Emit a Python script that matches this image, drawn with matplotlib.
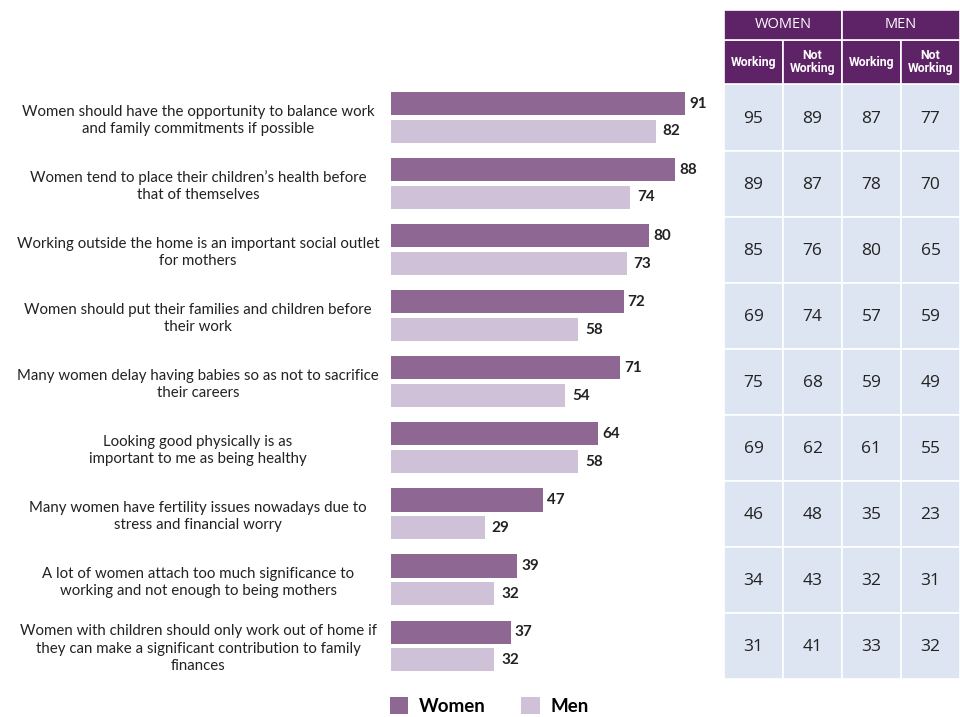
import matplotlib.pyplot as plt
from matplotlib.patches import Rectangle

plt.rcParams['font.family'] = ['Lato', 'DejaVu Sans']

statements = [
    "Women should have the opportunity to balance work\nand family commitments if possible",
    "Women tend to place their children\u2019s health before\nthat of themselves",
    "Working outside the home is an important social outlet\nfor mothers",
    "Women should put their families and children before\ntheir work",
    "Many women delay having babies so as not to sacrifice\ntheir careers",
    "Looking good physically is as\nimportant to me as being healthy",
    "Many women have fertility issues nowadays due to\nstress and financial worry",
    "A lot of women attach too much significance to\nworking and not enough to being mothers",
    "Women with children should only work out of home if\nthey can make a significant contribution to family\nfinances",
]
women = [91, 88, 80, 72, 71, 64, 47, 39, 37]
men = [82, 74, 73, 58, 54, 58, 29, 32, 32]

women_working = [95, 89, 85, 69, 75, 69, 46, 34, 31]
women_not_working = [89, 87, 76, 74, 68, 62, 48, 43, 41]
men_working = [87, 78, 80, 57, 59, 61, 35, 32, 33]
men_not_working = [77, 70, 65, 59, 49, 55, 23, 31, 32]

c_women = '#8e6893'
c_men = '#cfc2d8'
c_head = '#5e2266'
c_body = '#dde5f2'
c_text = '#222222'

W, H = 960, 717
fig = plt.figure(figsize=(9.6, 7.17), dpi=100)

# bar chart axes (pixel box -> figure fraction)
top_px, bot_px = 84.5, 679
ax = fig.add_axes([391 / W, 1 - bot_px / H, (714 - 391) / W, (bot_px - top_px) / H])
n = len(statements)
ypos = list(range(n))
off, bh = 0.21, 0.35
ax.barh([y - off for y in ypos], women, height=bh, color=c_women, label='Women')
ax.barh([y + off for y in ypos], men, height=bh, color=c_men, label='Men')
ax.set_xlim(0, 100)
ax.set_ylim(n - 0.5, -0.5)
ax.axis('off')

for y, v in zip(ypos, women):
    ax.annotate(str(v), (v, y - off), xytext=(3, 0), textcoords='offset points',
                va='center', ha='left', fontsize=11, fontweight='bold', color=c_text)
for y, v in zip(ypos, men):
    ax.annotate(str(v), (v, y + off), xytext=(5, 0), textcoords='offset points',
                va='center', ha='left', fontsize=11, fontweight='bold', color=c_text)

lab_x = (198 - 391) / (714 - 391)
for y, s in zip(ypos, statements):
    ax.text(lab_x, y + 0.04, s, transform=ax.get_yaxis_transform(), ha='center', va='center',
            multialignment='center', fontsize=10.8, color=c_text, linespacing=1.3)

leg = ax.legend(loc='upper left', bbox_to_anchor=(-0.022, -0.021), ncol=2, frameon=False,
                handlelength=1.0, handleheight=1.0, handletextpad=0.55, columnspacing=1.9,
                prop={'weight': 'bold', 'size': 13.5}, borderaxespad=0, borderpad=0.3)

# table axes
tx0, tx1 = 724, 960
h1, h2 = 31 / 66.06, 44 / 66.06
tab_top = top_px - 75
axt = fig.add_axes([tx0 / W, 1 - bot_px / H, (tx1 - tx0) / W, (bot_px - tab_top) / H])
axt.set_xlim(0, 4)
axt.set_ylim(n - 0.5, -0.5 - h1 - h2)
axt.axis('off')

cols = [women_working, women_not_working, men_working, men_not_working]
lw = 1.2
for r in range(n):
    for c in range(4):
        axt.add_patch(Rectangle((c, r - 0.5), 1, 1, facecolor=c_body, edgecolor='white', lw=lw))
        axt.text(c + 0.5, r + 0.02, str(cols[c][r]), ha='center', va='center',
                 fontsize=12.5, color=c_text, family=['Open Sans', 'DejaVu Sans'])

sub = ['Working', 'Not\nWorking', 'Working', 'Not\nWorking']
for c in range(4):
    axt.add_patch(Rectangle((c, -0.5 - h2), 1, h2, facecolor=c_head, edgecolor='white', lw=lw))
    axt.text(c + 0.5, -0.5 - h2 / 2, sub[c], ha='center', va='center', fontsize=8.8,
             fontweight='bold', color='white', linespacing=1.0, family=['Roboto', 'DejaVu Sans'])
for i, g in enumerate(['WOMEN', 'MEN']):
    axt.add_patch(Rectangle((2 * i, -0.5 - h2 - h1), 2, h1, facecolor=c_head, edgecolor='white', lw=lw))
    axt.text(2 * i + 1, -0.5 - h2 - h1 / 2, g, ha='center', va='center', fontsize=10.5,
             color='white', family=['Open Sans', 'DejaVu Sans'])

fig.savefig('out.png', dpi=100)
